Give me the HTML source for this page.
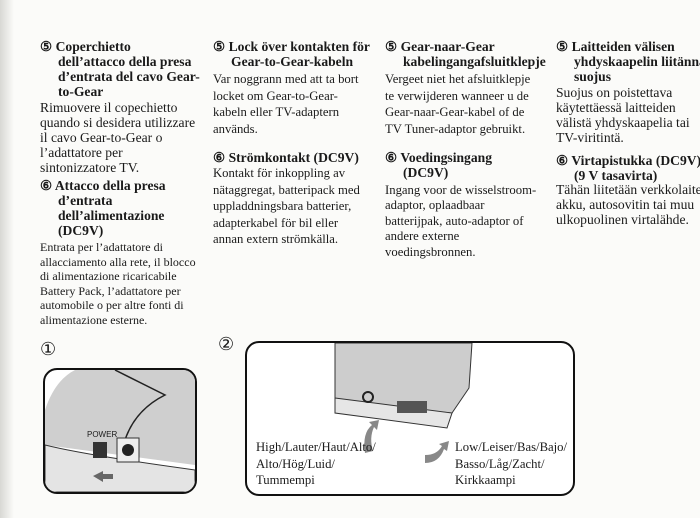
<!DOCTYPE html>
<html><head><meta charset="utf-8"><style>
body{margin:0;width:700px;height:518px;background:#fbfbf9;position:relative;overflow:hidden;font-family:"Liberation Serif",serif;color:#1a1a1a}
.b{position:absolute;white-space:nowrap}
.h{font-weight:bold;font-size:13.6px;line-height:15px}
.t{font-size:12.7px;line-height:16.5px}
.t1{font-size:13.6px;line-height:15px}
.ind{padding-left:18px}
</style></head><body>
<div style="position:absolute;left:0;top:0;width:14px;height:518px;background:linear-gradient(90deg,#d8d8d4,#fbfbf9)"></div>

<div class="b h" style="left:40px;top:39px">⑤ Coperchietto<br><span class="ind">dell’attacco della presa</span><br><span class="ind">d’entrata del cavo Gear-</span><br><span class="ind">to-Gear</span></div>
<div class="b t1" style="left:40px;top:100px">Rimuovere il copechietto<br>quando si desidera utilizzare<br>il cavo Gear-to-Gear o<br>l’adattatore per<br>sintonizzatore TV.</div>
<div class="b h" style="left:40px;top:178px">⑥ Attacco della presa<br><span class="ind">d’entrata</span><br><span class="ind">dell’alimentazione</span><br><span class="ind">(DC9V)</span></div>
<div class="b" style="left:40px;top:240px;font-size:12px;line-height:14.6px">Entrata per l’adattatore di<br>allacciamento alla rete, il blocco<br>di alimentazione ricaricabile<br>Battery Pack, l’adattatore per<br>automobile o per altre fonti di<br>alimentazione esterne.</div>

<div class="b h" style="left:213px;top:39px">⑤ Lock över kontakten för<br><span class="ind">Gear-to-Gear-kabeln</span></div>
<div class="b t" style="left:213px;top:71px">Var noggrann med att ta bort<br>locket om Gear-to-Gear-<br>kabeln eller TV-adaptern<br>används.</div>
<div class="b h" style="left:213px;top:150px">⑥ Strömkontakt (DC9V)</div>
<div class="b t" style="left:213px;top:165px">Kontakt för inkoppling av<br>nätaggregat, batteripack med<br>uppladdningsbara batterier,<br>adapterkabel för bil eller<br>annan extern strömkälla.</div>

<div class="b h" style="left:385px;top:39px">⑤ Gear-naar-Gear<br><span class="ind">kabelingangafsluitklepje</span></div>
<div class="b t" style="left:385px;top:71px">Vergeet niet het afsluitklepje<br>te verwijderen wanneer u de<br>Gear-naar-Gear-kabel of de<br>TV Tuner-adaptor gebruikt.</div>
<div class="b h" style="left:385px;top:150px">⑥ Voedingsingang<br><span class="ind">(DC9V)</span></div>
<div class="b" style="left:385px;top:183px;font-size:12.7px;line-height:15.4px">Ingang voor de wisselstroom-<br>adaptor, oplaadbaar<br>batterijpak, auto-adaptor of<br>andere externe<br>voedingsbronnen.</div>

<div class="b h" style="left:556px;top:39px">⑤ Laitteiden välisen<br><span class="ind">yhdyskaapelin liitännän</span><br><span class="ind">suojus</span></div>
<div class="b t1" style="left:556px;top:85px">Suojus on poistettava<br>käytettäessä laitteiden<br>välistä yhdyskaapelia tai<br>TV-viritintä.</div>
<div class="b h" style="left:556px;top:153px">⑥ Virtapistukka (DC9V)<br><span class="ind">(9 V tasavirta)</span></div>
<div class="b t1" style="left:556px;top:182px">Tähän liitetään verkkolaite,<br>akku, autosovitin tai muu<br>ulkopuolinen virtalähde.</div>

<div class="b" style="left:40px;top:339px;font-size:18px">①</div>
<div class="b" style="left:218px;top:334px;font-size:18px">②</div>

<div style="position:absolute;left:43px;top:368px;width:150px;height:122px;border:2px solid #111;border-radius:14px;overflow:hidden;background:#fff">
 <svg width="150" height="122" style="position:absolute;left:0;top:0">
  <path d="M30,0 L150,0 L150,95 L0,75 L0,40 Q10,10 30,0Z" fill="#cfcfcf"/>
  <path d="M70,0 Q100,15 120,25 Q90,40 80,70" fill="none" stroke="#222" stroke-width="1.5"/>
  <path d="M0,75 Q40,85 150,100 L150,122 L0,122Z" fill="#e4e4e4" stroke="#333"/>
  <rect x="48" y="72" width="14" height="16" fill="#333"/>
  <rect x="72" y="68" width="22" height="24" fill="#eee" stroke="#333"/>
  <circle cx="83" cy="80" r="6" fill="#222"/>
  <path d="M48,106 l10,-5 l0,3 l10,0 l0,5 l-10,0 l0,3z" fill="#666"/>
 </svg>
 <span style="position:absolute;left:42px;top:60px;font:8px 'Liberation Sans',sans-serif">POWER</span>
</div>

<div style="position:absolute;left:245px;top:341px;width:326px;height:151px;border:2px solid #111;border-radius:14px;overflow:hidden;background:#fff">
 <svg width="326" height="151" style="position:absolute;left:0;top:0">
  <path d="M88,0 L225,0 L222,45 L205,70 L88,60Z" fill="#cdcdcd" stroke="#333"/>
  <path d="M88,55 L205,70 L200,85 L88,70Z" fill="#e6e6e6" stroke="#333"/>
  <circle cx="121" cy="54" r="5" fill="none" stroke="#222" stroke-width="2"/>
  <rect x="150" y="58" width="30" height="12" fill="#555"/>
  <path d="M118,110 Q115,90 125,82 l-3,-3 l10,-2 l-2,10 l-3,-3 Q122,95 126,108z" fill="#888"/>
  <path d="M178,112 Q190,112 195,103 l-3,-2 l10,-3 l-2,10 l-3,-2 Q192,120 178,120z" fill="#888"/>
 </svg>
 <div class="b t" style="left:9px;top:96px">High/Lauter/Haut/Alto/<br>Alto/Hög/Luid/<br>Tummempi</div>
 <div class="b t" style="left:208px;top:96px">Low/Leiser/Bas/Bajo/<br>Basso/Låg/Zacht/<br>Kirkkaampi</div>
</div>
</body></html>
